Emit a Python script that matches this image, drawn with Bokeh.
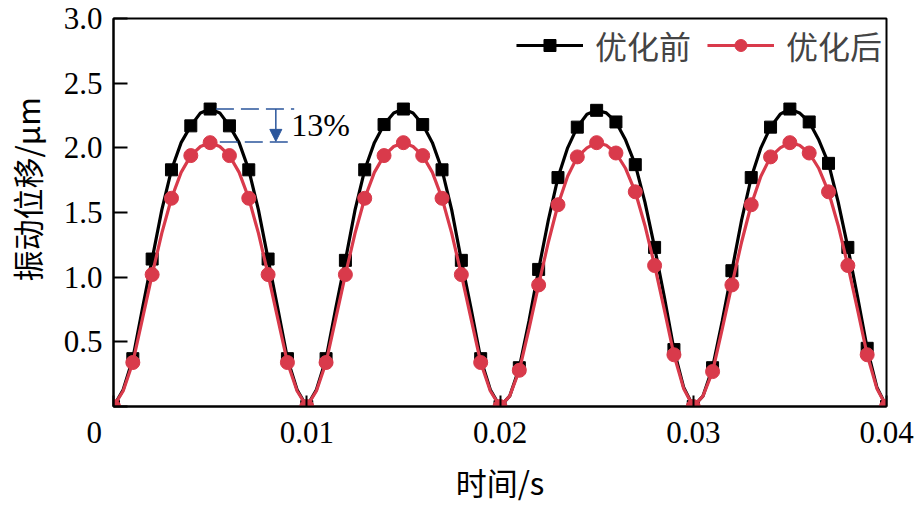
import pandas as pd
from bokeh.plotting import figure
from bokeh.models import (ColumnDataSource, Label, Arrow, NormalHead, FixedTicker,
                          Range1d, Legend, LegendItem)
from bokeh.embed import file_html
from bokeh.resources import INLINE

# ---------------- data ----------------
t_marker = [0.000, 0.001, 0.002, 0.003, 0.004, 0.005, 0.006, 0.007, 0.008, 0.009,
            0.010, 0.011, 0.012, 0.013, 0.014, 0.015, 0.016, 0.017, 0.018, 0.019,
            0.020, 0.021, 0.022, 0.023, 0.024, 0.025, 0.026, 0.027, 0.028, 0.029,
            0.030, 0.031, 0.032, 0.033, 0.034, 0.035, 0.036, 0.037, 0.038, 0.039,
            0.040]
before = [0, 0.37, 1.14, 1.83, 2.17, 2.30, 2.17, 1.83, 1.14, 0.37,
          0, 0.37, 1.13, 1.83, 2.18, 2.30, 2.18, 1.83, 1.13, 0.37,
          0, 0.30, 1.06, 1.77, 2.16, 2.29, 2.20, 1.87, 1.23, 0.44,
          0, 0.30, 1.05, 1.77, 2.16, 2.30, 2.20, 1.88, 1.23, 0.45,
          0]
after = [0, 0.34, 1.02, 1.61, 1.94, 2.04, 1.94, 1.61, 1.02, 0.34,
         0, 0.34, 1.02, 1.61, 1.94, 2.04, 1.94, 1.61, 1.02, 0.34,
         0, 0.28, 0.94, 1.56, 1.93, 2.04, 1.96, 1.66, 1.09, 0.40,
         0, 0.27, 0.94, 1.56, 1.93, 2.04, 1.96, 1.66, 1.09, 0.40,
         0]

# curve values read between the markers (half steps)
t_mid = [0.0005, 0.0015, 0.0025, 0.0035, 0.0045, 0.0055, 0.0065, 0.0075, 0.0085, 0.0095,
         0.0105, 0.0115, 0.0125, 0.0135, 0.0145, 0.0155, 0.0165, 0.0175, 0.0185, 0.0195,
         0.0205, 0.0215, 0.0225, 0.0235, 0.0245, 0.0255, 0.0265, 0.0275, 0.0285, 0.0295,
         0.0305, 0.0315, 0.0325, 0.0335, 0.0345, 0.0355, 0.0365, 0.0375, 0.0385, 0.0395]
before_mid = [0.13, 0.76, 1.52, 2.04, 2.27, 2.27, 2.04, 1.52, 0.76, 0.13,
              0.13, 0.76, 1.52, 2.04, 2.27, 2.27, 2.04, 1.52, 0.76, 0.13,
              0.08, 0.66, 1.44, 2.00, 2.26, 2.27, 2.06, 1.58, 0.85, 0.15,
              0.08, 0.66, 1.44, 2.00, 2.26, 2.27, 2.06, 1.58, 0.85, 0.15]
after_mid = [0.12, 0.68, 1.34, 1.81, 2.01, 2.01, 1.81, 1.34, 0.68, 0.12,
             0.12, 0.68, 1.34, 1.81, 2.01, 2.01, 1.81, 1.34, 0.68, 0.12,
             0.08, 0.60, 1.27, 1.78, 2.00, 2.02, 1.84, 1.40, 0.75, 0.14,
             0.08, 0.60, 1.27, 1.78, 2.00, 2.02, 1.84, 1.40, 0.75, 0.14]

x_ticks = [0, 0.01, 0.02, 0.03, 0.04]
x_tick_labels = ["0", "0.01", "0.02", "0.03", "0.04"]
y_ticks = [0, 0.5, 1.0, 1.5, 2.0, 2.5, 3.0]
y_tick_labels = ["", "0.5", "1.0", "1.5", "2.0", "2.5", "3.0"]
labels = ["优化前", "优化后"]
x_title = "时间/s"
y_title = "振动位移/μm"
note = "13%"

# ---------------- styling ----------------
BLACK = "#000000"
RED = "#d93a4b"
BLUE = "#2b569c"
NUM_FONT = "Liberation Serif"
CJK_FONT = "Noto Sans CJK SC"

markers_src = ColumnDataSource(dict(t=t_marker, before=before, after=after))
line_df = pd.concat([
    pd.DataFrame(dict(t=t_marker, before=before, after=after)),
    pd.DataFrame(dict(t=t_mid, before=before_mid, after=after_mid)),
]).sort_values("t")
line_src = ColumnDataSource(line_df)

p = figure(width=920, height=506, output_backend="svg", toolbar_location=None,
           x_range=Range1d(0, 0.04), y_range=Range1d(0, 3.0))
p.min_border_left = 111
p.min_border_right = 34
p.min_border_top = 18
p.min_border_bottom = 99
p.background_fill_color = "white"
p.border_fill_color = "white"
p.grid.visible = False
p.outline_line_color = "black"
p.outline_line_width = 2

for ax in (p.xaxis[0], p.yaxis[0]):
    ax.axis_line_width = 2
    ax.major_tick_line_width = 2
    ax.major_tick_out = 0
    ax.minor_tick_in = 0
    ax.minor_tick_out = 0
    ax.major_label_text_font = NUM_FONT
    ax.major_label_text_font_size = "31px"
    ax.major_label_text_color = "black"
    ax.axis_label_text_font = CJK_FONT
    ax.axis_label_text_font_size = "31px"
    ax.axis_label_text_font_style = "normal"
    ax.axis_label_text_color = "black"

p.xaxis.ticker = FixedTicker(ticks=x_ticks)
p.yaxis.ticker = FixedTicker(ticks=y_ticks)
p.xaxis.major_tick_in = 11
p.yaxis.major_tick_in = 14
# the shared corner "0" sits left of the origin tick: pad it with invisible spaces
x_over = {t: s for t, s in zip(x_ticks, x_tick_labels)}
x_over[0] = x_tick_labels[0] + "\u2003\u2005"
p.xaxis.major_label_overrides = x_over
p.yaxis.major_label_overrides = {t: s for t, s in zip(y_ticks, y_tick_labels)}
p.xaxis.major_label_standoff = 8
p.yaxis.major_label_standoff = 11
p.xaxis.axis_label = x_title
p.xaxis.axis_label_standoff = 6
p.yaxis.axis_label = "\u2003\u2002" + y_title
p.yaxis.axis_label_standoff = 12

# series
l1 = p.line("t", "before", source=line_src, line_color=BLACK, line_width=3.2)
s1 = p.scatter("t", "before", source=markers_src, marker="square", size=12,
               fill_color=BLACK, line_color=BLACK)
l2 = p.line("t", "after", source=line_src, line_color=RED, line_width=3.2)
s2 = p.scatter("t", "after", source=markers_src, marker="circle", size=14,
               fill_color=RED, line_color=RED)

# annotation 13%
p.segment(x0=[0.0053, 0.0055], y0=[2.30, 2.045], x1=[0.00935, 0.00935],
          y1=[2.30, 2.045], line_color=BLUE, line_width=1.5, line_dash="18 7")
p.add_layout(Arrow(end=NormalHead(size=12, fill_color=BLUE, line_color=BLUE),
                   x_start=0.0084, y_start=2.30, x_end=0.0084, y_end=2.05,
                   line_color=BLUE, line_width=1.5))
p.add_layout(Label(x=0.0092, y=2.18, text=note, text_align="left",
                   text_baseline="middle", text_font=NUM_FONT,
                   text_font_size="32px", text_color="black"))

legend = Legend(items=[LegendItem(label=labels[0], renderers=[l1, s1]),
                       LegendItem(label=labels[1], renderers=[l2, s2])],
                orientation="horizontal", location="top_right")
legend.label_text_font = CJK_FONT
legend.label_text_font_size = "32px"
legend.glyph_width = 67
legend.glyph_height = 30
legend.label_standoff = 12
legend.spacing = 16
legend.padding = 0
legend.margin = 4
legend.border_line_color = None
legend.background_fill_alpha = 0
p.add_layout(legend)

open("out.html", "w").write(file_html(p, INLINE))
